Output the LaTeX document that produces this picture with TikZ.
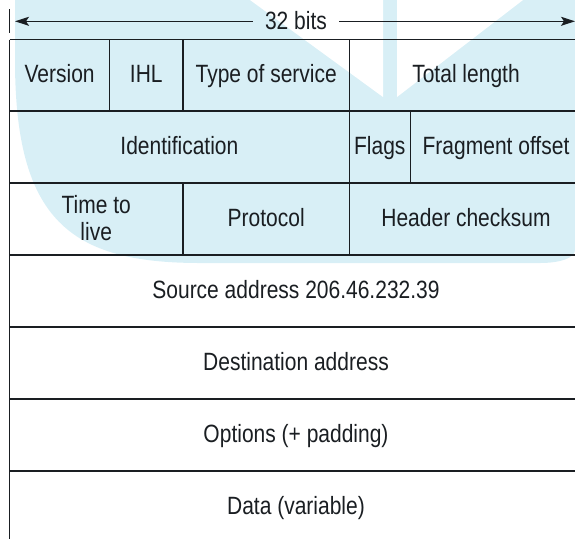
\documentclass[tikz,border=0pt]{standalone}
\usepackage{fontspec}
\setmainfont{Liberation Sans}[FakeStretch=0.84]
\usetikzlibrary{arrows.meta}
\definecolor{wm}{RGB}{216,239,246}
\definecolor{ink}{RGB}{26,30,34}
\begin{document}
\begin{tikzpicture}[x=1pt,y=-1pt,
  txt/.style={font=\fontsize{25}{26.5}\selectfont, text=ink, inner sep=0pt, align=center},
  rule/.style={draw=ink, line width=1.2pt},
  dimarrow/.style={draw=ink, line width=1.2pt, -{Stealth[length=14pt,width=9pt,inset=3pt]}}]
\useasboundingbox (0,0) rectangle (575,539);
% watermark
\fill[wm] (15,0) -- (15,60) .. controls (15,220) and (70,263) .. (200,263) -- (540,263) .. controls (560,263) and (575,258) .. (575,250) -- (575,0) -- cycle;
\fill[white] (250,0) -- (383,97) -- (383,0) -- cycle;
\fill[white] (397,0) -- (397,97) -- (523,0) -- cycle;
% width indicator
\draw[rule] (9.5,9) -- (9.5,33);
\node[txt, anchor=base, inner xsep=12pt] (bits) at (296,29.5) {32 bits};
\coordinate (L) at (15,21.3);
\coordinate (R) at (575,21.3);
\draw[dimarrow] (bits.west |- L) -- (L);
\draw[dimarrow] (bits.east |- R) -- (R);
% table grid
\foreach \y in {39.5,111,183,255,327,399,471} \draw[rule] (9.5,\y) -- (575,\y);
\draw[rule] (9.5,39.5) -- (9.5,539);
\draw[rule] (109.7,39.5) -- (109.7,111);
\draw[rule] (183,39.5) -- (183,111);
\draw[rule] (349.3,39.5) -- (349.3,255);
\draw[rule] (410.3,111) -- (410.3,183);
\draw[rule] (183,183) -- (183,255);
% row 1
\node[txt, anchor=base] (ver) at (59.6,82.75) {Version};
\node[txt, anchor=base] (ihl) at (146.3,82.75) {IHL};
\node[txt, anchor=base] (tos) at (266.2,82.75) {Type of service};
\node[txt, anchor=base] (tlen) at (466,82.75) {Total length};
% row 2
\node[txt, anchor=base] (ident) at (179.4,154.5) {Identification};
\node[txt, anchor=base] (flags) at (379.8,154.5) {Flags};
\node[txt, anchor=base] (frag) at (496,154.5) {Fragment offset};
% row 3
\node[txt, anchor=center] (ttl) at (96.2,218) {Time to\\live};
\node[txt, anchor=base] (proto) at (266.2,226.5) {Protocol};
\node[txt, anchor=base] (hcs) at (466,226.5) {Header checksum};
% full rows
\node[txt, anchor=base] (src) at (296,298.5) {Source address 206.46.232.39};
\node[txt, anchor=base] (dst) at (296,370.5) {Destination address};
\node[txt, anchor=base] (opts) at (296,442.5) {Options (+ padding)};
\node[txt, anchor=base] (data) at (296,514.5) {Data (variable)};
\end{tikzpicture}
\end{document}
